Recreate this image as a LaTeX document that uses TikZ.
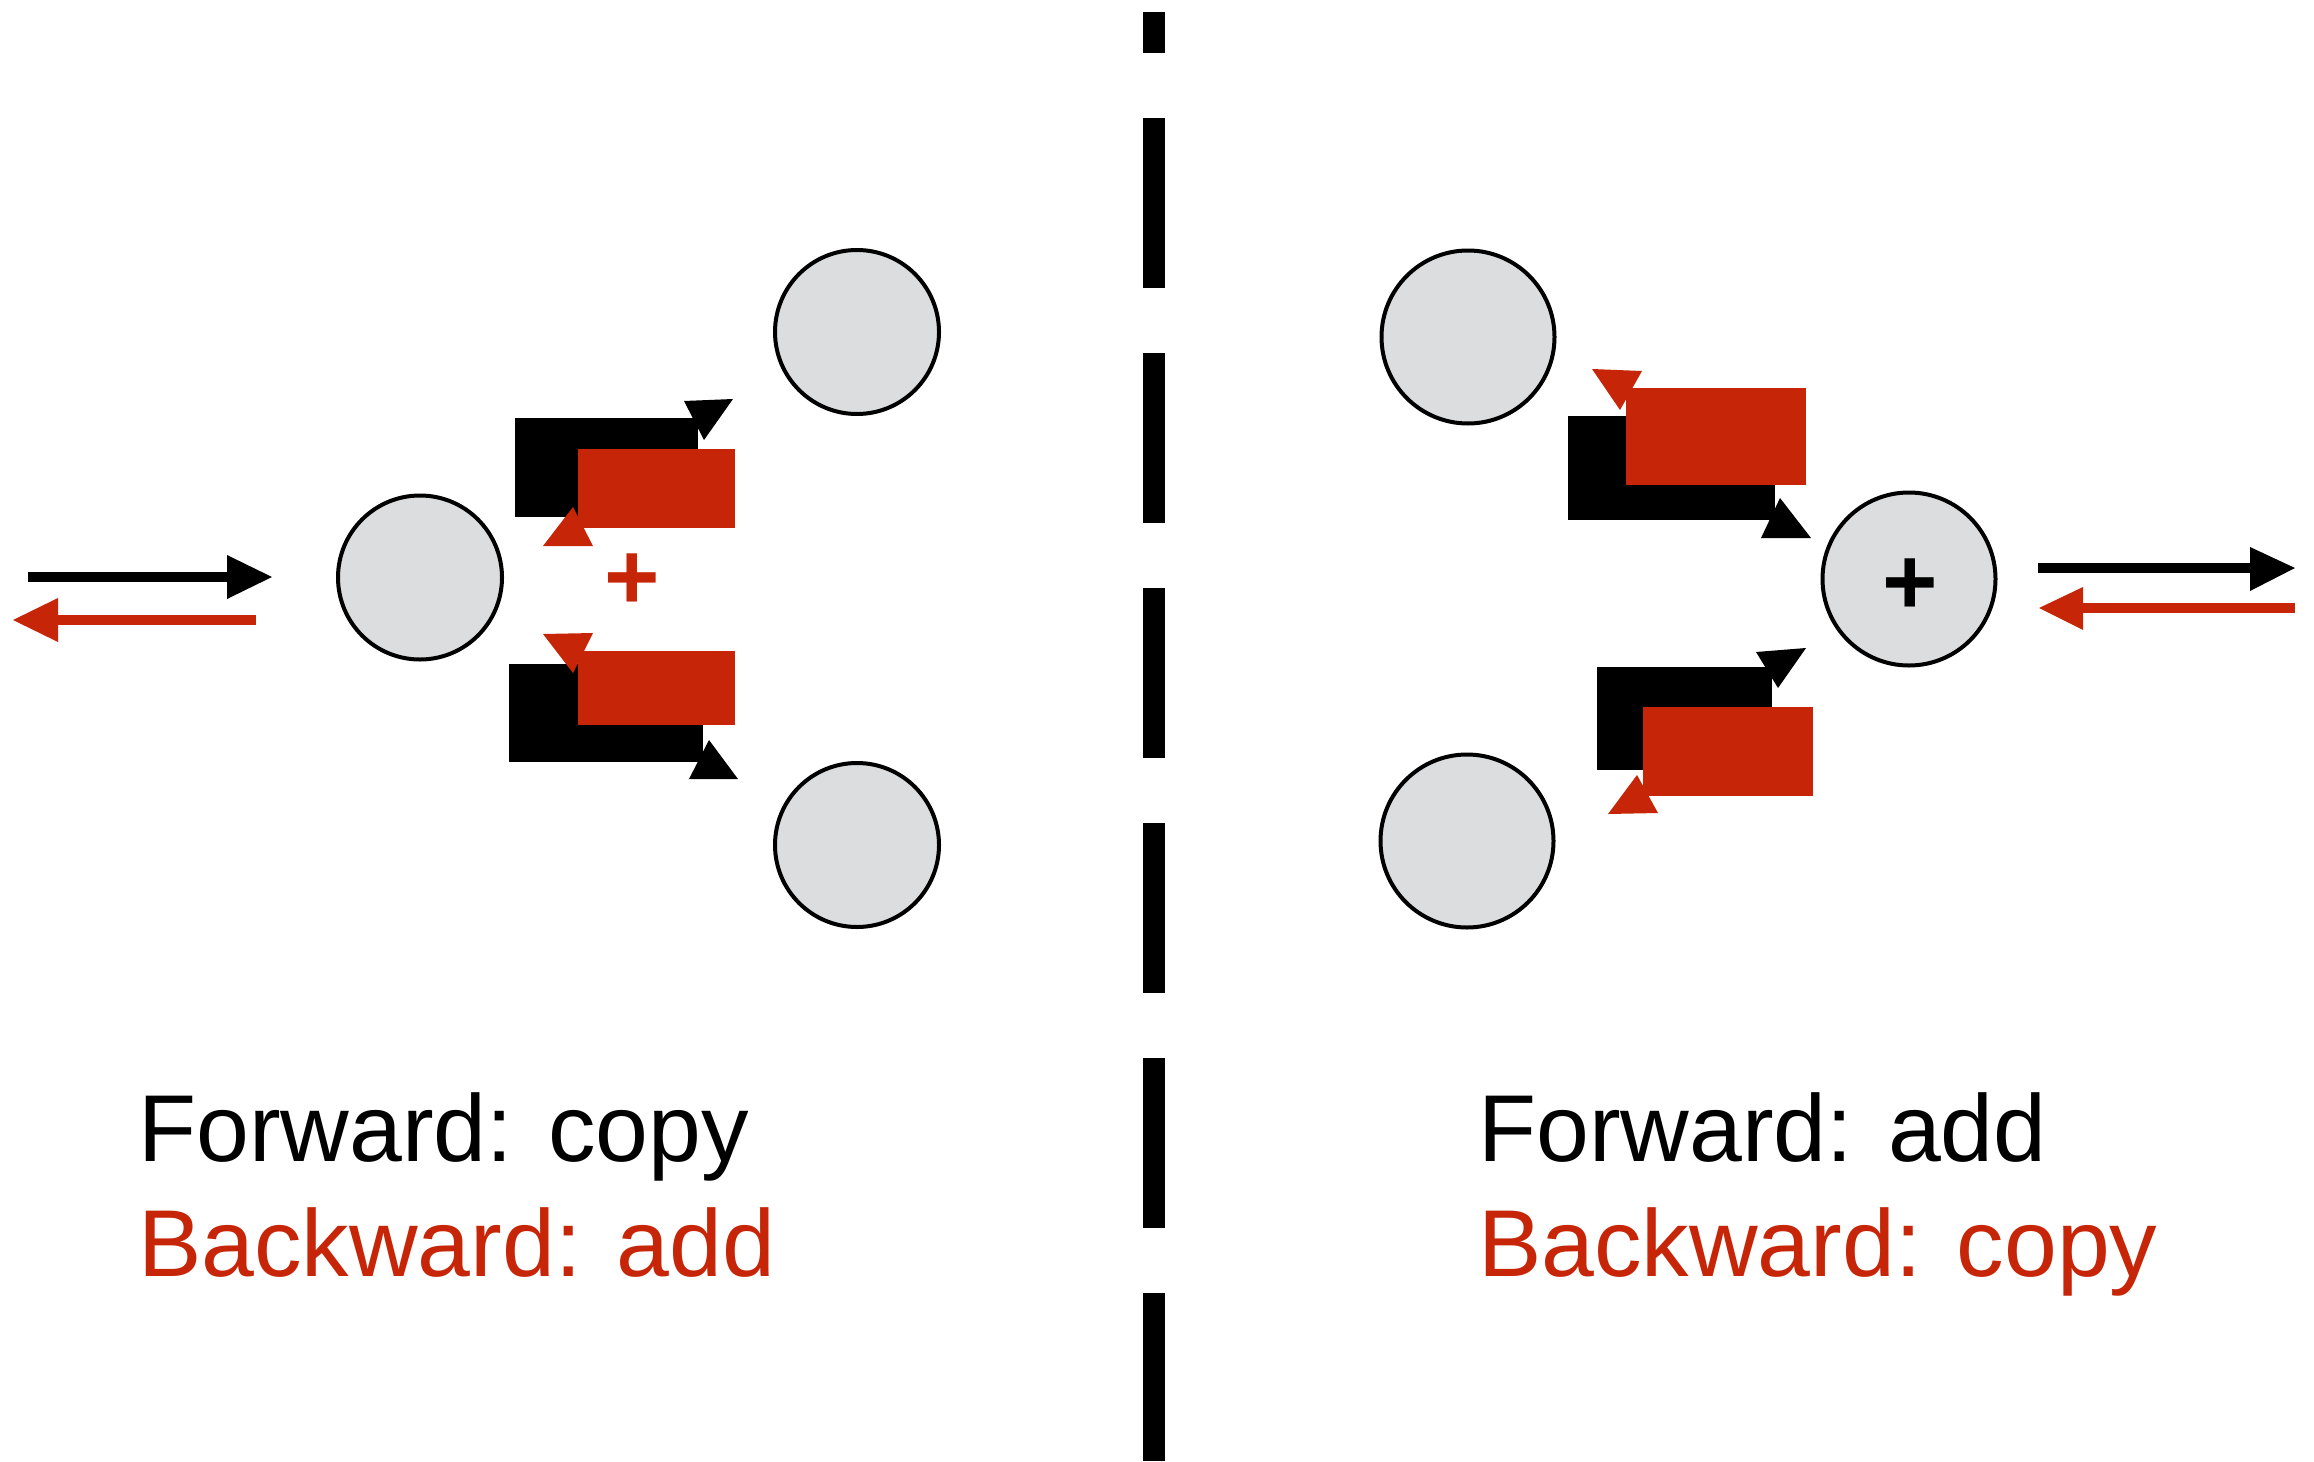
\documentclass[tikz,border=0pt]{standalone}
\usepackage{fontspec}
\setmainfont{Liberation Sans}
\newfontfamily\plusfont{Liberation Sans}[BoldFont={* Bold}]
\definecolor{cred}{RGB}{199,37,8}
\definecolor{cgray}{RGB}{220,221,223}
\begin{document}
\begin{tikzpicture}[x=1pt,y=-1pt,
  circ/.style={circle,draw=black,line width=4pt,fill=cgray,inner sep=0pt},
  lbl/.style={anchor=base west,inner sep=0pt,font=\fontsize{95}{114}\selectfont},
  plussign/.style={inner sep=0pt,font=\plusfont\bfseries\fontsize{95}{114}\selectfont},
  blk/.style={fill=black},
  rd/.style={fill=cred}]
\useasboundingbox[fill=white] (0,0) rectangle (2314,1461);

% dashed divider
\coordinate (dtop) at (1154,12);
\coordinate (dbot) at (1154,1461);
\draw[line width=22pt,dash pattern=on 170pt off 65pt,dash phase=129pt] (dtop) -- (dbot);

% circles
\node[circ,minimum size=164pt] (L)  at (420,577.5) {};
\node[circ,minimum size=164pt] (LT) at (857,332) {};
\node[circ,minimum size=164pt] (LB) at (857,845) {};
\node[circ,minimum size=173pt] (RT) at (1468,337) {};
\node[circ,minimum size=173pt] (RB) at (1467,841) {};
\node[circ,minimum size=173pt] (RP) at (1909,579) {};
\node[plussign,anchor=base] (RPplus) at (1910,614) {+};

% left in/out arrows
\fill[blk] (28,572) rectangle (228,582);
\fill[blk] (227,555) -- (227,599) -- (272,577) -- cycle;
\fill[rd] (57,615) rectangle (256,625);
\fill[rd] (58,598) -- (58,642) -- (13,620) -- cycle;

% right in/out arrows
\fill[blk] (2038,563) rectangle (2251,573);
\fill[blk] (2250,547) -- (2250,591) -- (2295,568) -- cycle;
\fill[rd] (2082,603) rectangle (2295,613);
\fill[rd] (2083,587) -- (2083,630) -- (2039,608) -- cycle;

% left group, upper
\fill[blk] (515,418) rectangle (698,517);
\fill[blk] (684,401) -- (733,399) -- (704,440) -- cycle;
\fill[rd] (578,449) rectangle (735,528);
\fill[rd] (543,546) -- (593,546) -- (573,507) -- cycle;
\node[plussign,text=cred,anchor=base] (Lplus) at (632,609) {+};

% left group, lower
\fill[blk] (509,664) rectangle (703,762);
\fill[rd] (543,634) -- (593,633) -- (573,673) -- cycle;
\fill[rd] (578,651) rectangle (735,725);
\fill[blk] (689,779) -- (738,779) -- (709,740) -- cycle;

% right group, upper
\fill[blk] (1568,416) rectangle (1775,520);
\fill[blk] (1761,538) -- (1811,538) -- (1780,498) -- cycle;
\fill[rd] (1626,388) rectangle (1806,485);
\fill[rd] (1592,369) -- (1642,371) -- (1620,410) -- cycle;

% right group, lower
\fill[blk] (1597,667) rectangle (1772,770);
\fill[blk] (1756,652) -- (1806,648) -- (1778,688) -- cycle;
\fill[rd] (1643,707) rectangle (1813,796);
\fill[rd] (1608,814) -- (1658,813) -- (1637,775) -- cycle;

% labels
\node[lbl] (lf) at (138,1161) {Forward: copy};
\node[lbl,text=cred] (lb) at (138,1276) {Backward: add};
\node[lbl] (rf) at (1478,1161) {Forward: add};
\node[lbl,text=cred] (rb) at (1478,1276) {Backward: copy};
\end{tikzpicture}
\end{document}
